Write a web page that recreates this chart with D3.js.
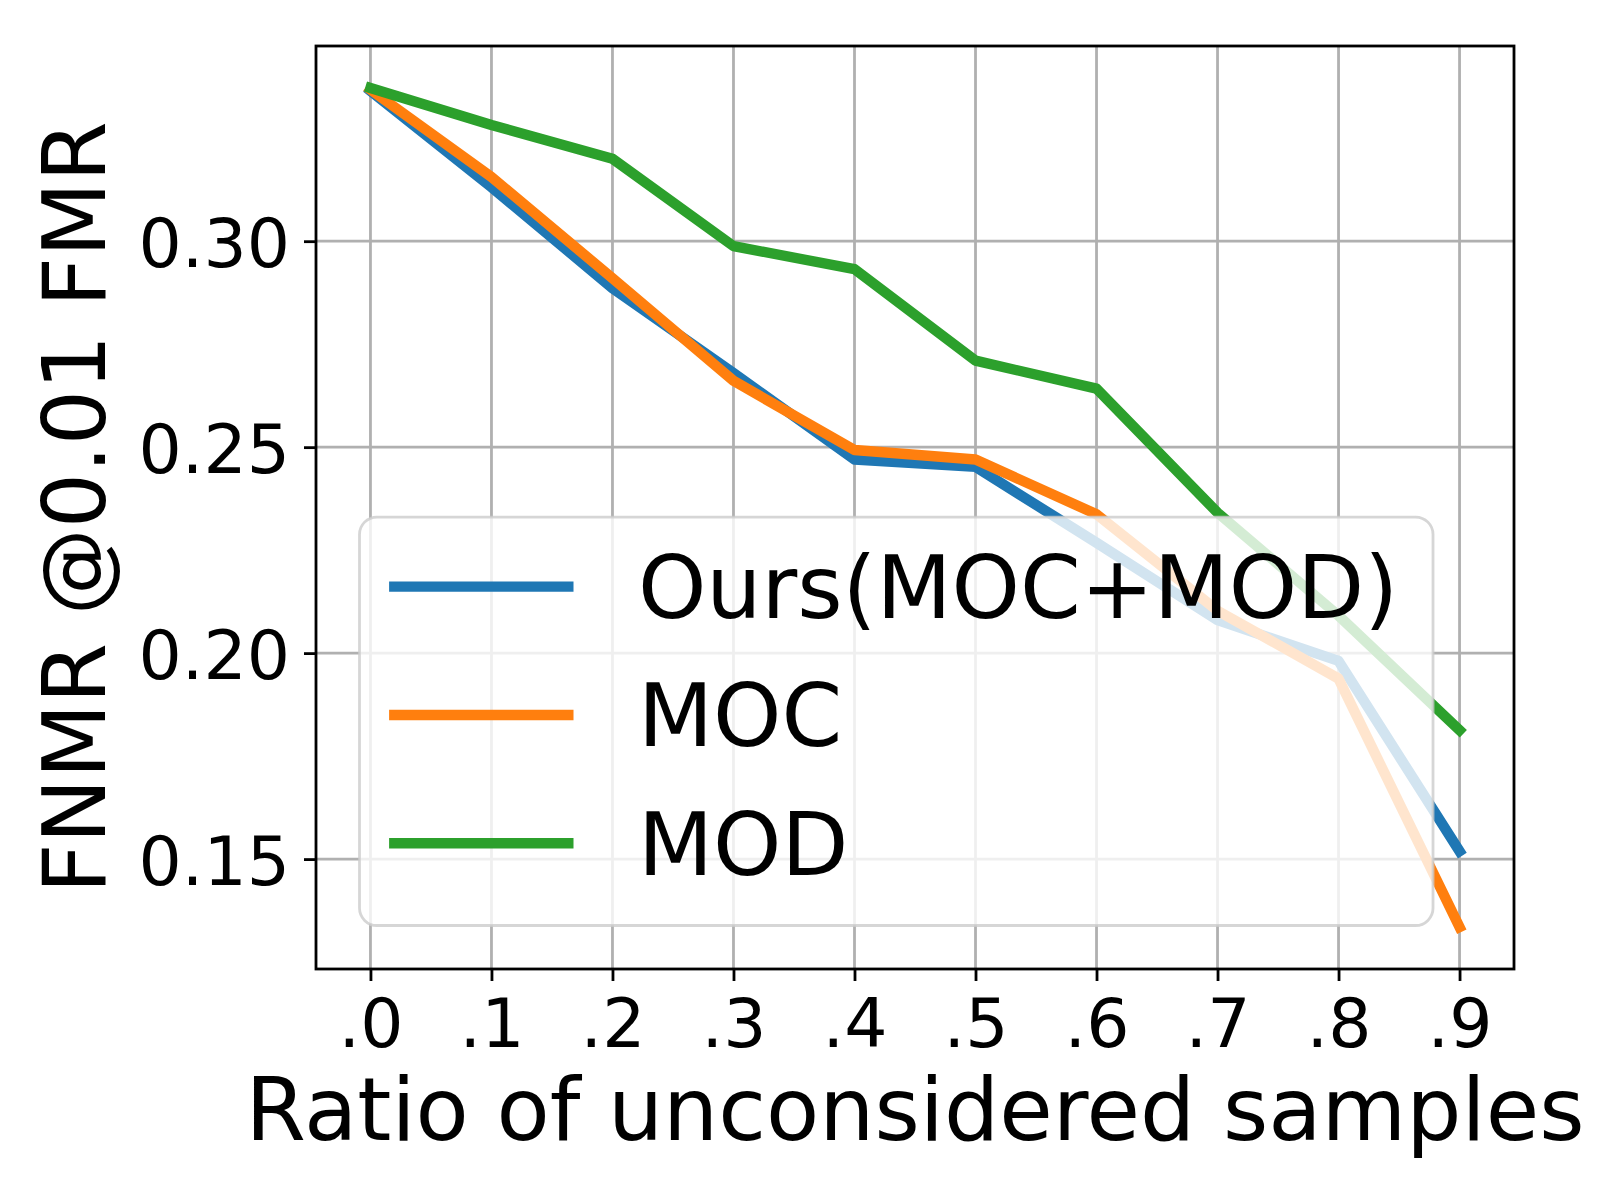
<!DOCTYPE html>
<html>
<head>
<meta charset="utf-8">
<script src="https://cdn.jsdelivr.net/npm/d3@7"></script>
<style>
    body { margin: 0; background: #fff; }
    text { font-family: "DejaVu Sans", sans-serif; fill: #000; }
</style>
</head>
<body>
<div id="chart"></div>
<script>
// values
const ratios = [0, 0.1, 0.2, 0.3, 0.4, 0.5, 0.6, 0.7, 0.8, 0.9];
const xTickLabels = ['.0', '.1', '.2', '.3', '.4', '.5', '.6', '.7', '.8', '.9'];
const yTicks = [0.15, 0.20, 0.25, 0.30];

const oursValues = [0.3365, 0.3131, 0.2886, 0.2680, 0.2470, 0.2452, 0.2268, 0.2080, 0.1981, 0.1519];
const mocValues  = [0.3368, 0.3156, 0.2910, 0.2661, 0.2493, 0.2470, 0.2337, 0.2103, 0.1938, 0.1335];
const modValues  = [0.3372, 0.3282, 0.3200, 0.2988, 0.2932, 0.2710, 0.2642, 0.2341, 0.2091, 0.1813];

const seriesNames = ['Ours(MOC+MOD)', 'MOC', 'MOD'];
const seriesColors = ['#1f77b4', '#ff7f0e', '#2ca02c'];

const series = [oursValues, mocValues, modValues].map((vals, i) => ({
    name: seriesNames[i],
    color: seriesColors[i],
    points: vals.map((v, j) => ({ x: ratios[j], y: v }))
}));

var svgwidth = 1600;
var svgheight = 1200;
var margin = { left: 316, top: 46, right: 86, bottom: 231 };
var inner_width = svgwidth - margin.left - margin.right;
var inner_height = svgheight - margin.top - margin.bottom;

var labelSize = 87;
var tickSize = 68;

var svg = d3.select('#chart')
    .append('svg')
    .attr('width', svgwidth)
    .attr('height', svgheight);

var g = svg.append('g')
    .attr('transform', `translate(${margin.left}, ${margin.top})`);

// matplotlib style auto limits: 5% margin on both sides
const xExt = d3.extent(ratios);
const xPad = (xExt[1] - xExt[0]) * 0.05;
const allY = [].concat(oursValues, mocValues, modValues);
const yExt = d3.extent(allY);
const yPad = (yExt[1] - yExt[0]) * 0.05;

var xscale = d3.scaleLinear()
    .domain([xExt[0] - xPad, xExt[1] + xPad])
    .range([0, inner_width]);

var yscale = d3.scaleLinear()
    .domain([yExt[0] - yPad, yExt[1] + yPad])
    .range([inner_height, 0]);

// grid
g.append('g')
    .selectAll('line')
    .data(ratios)
    .join('line')
    .attr('x1', d => xscale(d)).attr('x2', d => xscale(d))
    .attr('y1', 0).attr('y2', inner_height)
    .attr('stroke', '#b0b0b0')
    .attr('stroke-width', 2.8);

g.append('g')
    .selectAll('line')
    .data(yTicks)
    .join('line')
    .attr('x1', 0).attr('x2', inner_width)
    .attr('y1', d => yscale(d)).attr('y2', d => yscale(d))
    .attr('stroke', '#b0b0b0')
    .attr('stroke-width', 2.8);

// lines
var line = d3.line()
    .x(d => xscale(d.x))
    .y(d => yscale(d.y));

g.append('g')
    .selectAll('path')
    .data(series)
    .join('path')
    .attr('d', d => line(d.points))
    .attr('fill', 'none')
    .attr('stroke', d => d.color)
    .attr('stroke-width', 10.4)
    .attr('stroke-linejoin', 'round')
    .attr('stroke-linecap', 'square');

// axes
var xaxis = d3.axisBottom(xscale)
    .tickValues(ratios)
    .tickFormat((d, i) => xTickLabels[i])
    .tickSize(12)
    .tickPadding(18);

var yaxis = d3.axisLeft(yscale)
    .tickValues(yTicks)
    .tickFormat(d3.format('.2f'))
    .tickSize(12)
    .tickPadding(14);

var gx = g.append('g')
    .attr('transform', `translate(0, ${inner_height})`)
    .call(xaxis);

var gy = g.append('g').call(yaxis);

[gx, gy].forEach(ax => {
    ax.select('.domain').remove();
    ax.selectAll('.tick line').attr('stroke', '#000').attr('stroke-width', 2.8);
    ax.selectAll('.tick text')
        .attr('font-family', 'DejaVu Sans')
        .attr('font-size', tickSize)
        .attr('fill', '#000');
});
gy.selectAll('.tick text').attr('dy', '0.37em');

// frame
g.append('rect')
    .attr('x', 0).attr('y', 0)
    .attr('width', inner_width).attr('height', inner_height)
    .attr('fill', 'none')
    .attr('stroke', '#000')
    .attr('stroke-width', 2.8);

// axis labels
svg.append('text')
    .attr('x', margin.left + inner_width / 2)
    .attr('y', 1140)
    .attr('text-anchor', 'middle')
    .attr('font-size', labelSize)
    .text('Ratio of unconsidered samples');

svg.append('text')
    .attr('transform', `translate(105, ${margin.top + inner_height / 2}) rotate(-90)`)
    .attr('text-anchor', 'middle')
    .attr('font-size', labelSize)
    .text('FNMR @0.01 FMR');

// legend, lower left
var legend = g.append('g');
var fs = labelSize;
var legLeft = 0.5 * fs;
var legBottom = inner_height - 0.5 * fs;
var rowStep = 1.475 * fs;
var lastRow = legBottom - 0.945 * fs;
var rows = series.map((s, i) => lastRow - (series.length - 1 - i) * rowStep);
var legTop = rows[0] - 0.8 * fs;

var legBox = legend.append('rect')
    .attr('x', legLeft)
    .attr('y', legTop)
    .attr('height', legBottom - legTop)
    .attr('rx', 0.2 * fs).attr('ry', 0.2 * fs)
    .attr('fill', 'rgba(255,255,255,0.8)')
    .attr('stroke', 'rgba(204,204,204,0.8)')
    .attr('stroke-width', 2.8);

var handleX0 = legLeft + 0.4 * fs;
var handleX1 = handleX0 + 2 * fs;

var entries = legend.selectAll('.entry')
    .data(series)
    .join('g')
    .attr('class', 'entry');

entries.append('line')
    .attr('x1', handleX0).attr('x2', handleX1)
    .attr('y1', (d, i) => rows[i]).attr('y2', (d, i) => rows[i])
    .attr('stroke', d => d.color)
    .attr('stroke-width', 10.4)
    .attr('stroke-linecap', 'square');

var labels = entries.append('text')
    .attr('x', handleX1 + 0.8 * fs)
    .attr('y', (d, i) => rows[i] + 0.36 * fs)
    .attr('font-size', fs)
    .text(d => d.name);

var maxW = d3.max(labels.nodes(), n => n.getComputedTextLength());
legBox.attr('width', handleX1 + 0.8 * fs + maxW + 0.4 * fs - legLeft);
</script>
</body>
</html>
